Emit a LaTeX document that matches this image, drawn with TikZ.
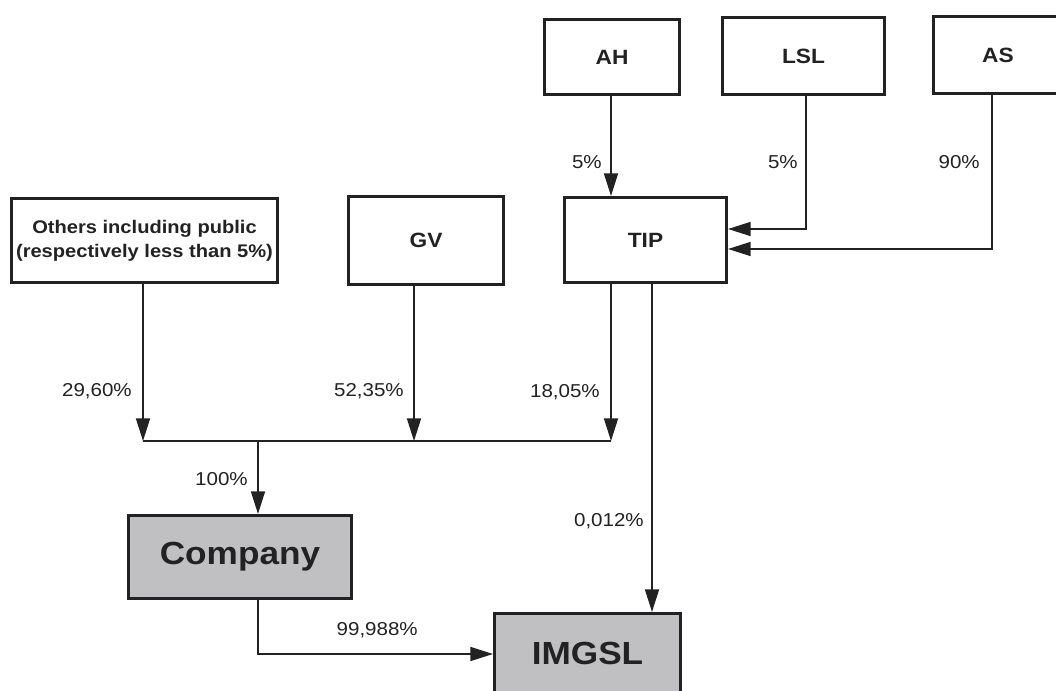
\documentclass[tikz,border=0pt]{standalone}
\usepackage{fontspec}
\setmainfont{Liberation Sans}[FakeStretch=1.1]
\usetikzlibrary{arrows.meta}
\definecolor{boxgray}{RGB}{192,192,194}
\definecolor{ink}{RGB}{34,34,34}
\tikzset{
  box/.style={draw=ink, line width=2.3pt, inner sep=0pt, align=center, font=\bfseries\fontsize{15.5}{18}\selectfont, text=ink},
  graybox/.style={box, fill=boxgray, font=\bfseries\fontsize{24}{28}\selectfont},
  conn/.style={draw=ink, line width=1.3pt},
  arr/.style={conn, -{Triangle[length=17pt,width=10.5pt]}},
  lab/.style={anchor=east, inner sep=0pt, font=\fontsize{14}{16}\selectfont, text=ink}
}
\begin{document}
\begin{tikzpicture}[x=0.75pt, y=-0.75pt]
\useasboundingbox (0,0) rectangle (1056,691);
\clip (0,0) rectangle (1056,691);
\fill[white] (0,0) rectangle (1056,691);

% boxes
\node[box, minimum width=101.25pt, minimum height=56.25pt] (AH) at (612,57) {AH};
\node[box, minimum width=121.5pt, minimum height=57.75pt] (LSL) at (803.5,56) {LSL};
\node[box, minimum width=96.75pt, minimum height=57.75pt] (AS) at (998,55) {AS};
\node[box, minimum width=121.5pt, minimum height=63.75pt] (TIP) at (645.5,240) {TIP};
\node[box, minimum width=199.5pt, minimum height=63pt, font=\bfseries\fontsize{13.7}{18}\selectfont] (Others) at (144.5,240.5) {Others including public\\(respectively less than 5\%)};
\node[box, minimum width=116.25pt, minimum height=66pt] (GV) at (426,240.5) {GV};
\node[graybox, minimum width=167.25pt, minimum height=62.25pt] (Company) at (240,557) {Company};
\node[graybox, minimum width=139.5pt, minimum height=60pt] (IMGSL) at (587.5,653.5) {IMGSL};

% junction coordinates
\coordinate (lslbend) at (806,229);
\coordinate (asbend) at (992,249);
\coordinate (busL) at (143,441);
\coordinate (busG) at (414,441);
\coordinate (busR) at (611,441);
\coordinate (busC) at (258,441);
\coordinate (cbend) at (258,654);
\coordinate (tipx) at (652,284);

% connectors to TIP
\draw[arr] (AH.south -| 611,0) -- (TIP.north -| 611,0);
\draw[arr] (LSL.south -| lslbend) -- (lslbend) -- (lslbend -| TIP.east);
\draw[arr] (AS.south -| asbend) -- (asbend) -- (asbend -| TIP.east);

% to bus
\draw[arr] (Others.south -| busL) -- (busL);
\draw[arr] (GV.south -| busG) -- (busG);
\draw[arr] (TIP.south -| busR) -- (busR);
\draw[conn] (busL) -- (busR);
\draw[arr] (busC) -- (busC |- Company.north);

% to IMGSL
\draw[arr] (Company.south -| cbend) -- (cbend) -- (cbend -| IMGSL.west);
\draw[arr] (TIP.south -| tipx) -- (tipx |- IMGSL.north);

% labels
\node[lab] at (602,162) {5\%};
\node[lab] at (798,162) {5\%};
\node[lab] at (980,162) {90\%};
\node[lab] at (132,391) {29,60\%};
\node[lab] at (404,391) {52,35\%};
\node[lab] at (600,392) {18,05\%};
\node[lab] at (248,479) {100\%};
\node[lab] at (644,521) {0,012\%};
\node[lab] at (418,630) {99,988\%};
\end{tikzpicture}
\end{document}
